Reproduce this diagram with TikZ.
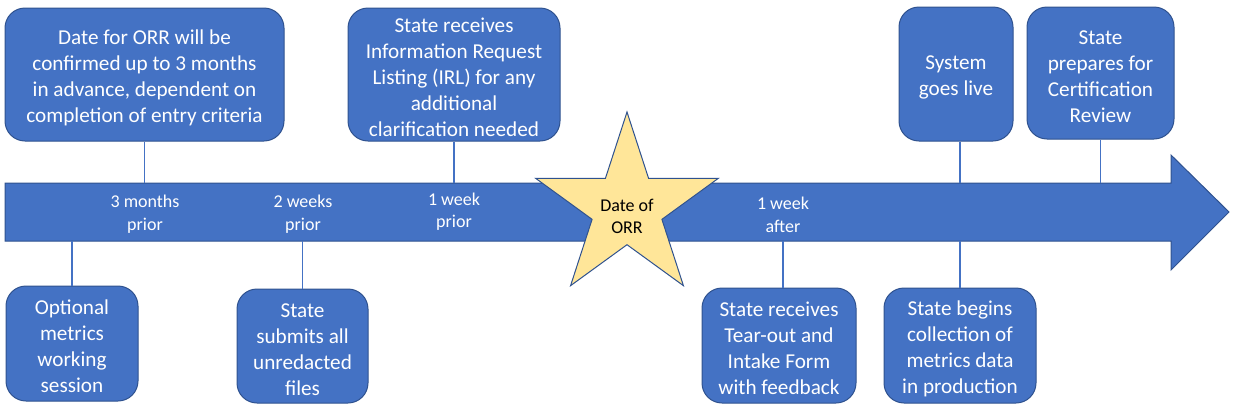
\documentclass[tikz,border=0pt]{standalone}
\usepackage{fontspec}
\setmainfont{Carlito}
\usetikzlibrary{calc}
\definecolor{ppblue}{HTML}{4472C4}
\definecolor{ppedge}{HTML}{2F528F}
\definecolor{ppgold}{HTML}{FFE699}
\newcommand{\padtop}{\rule{0pt}{10.5pt}}

\begin{document}
\begin{tikzpicture}[x=0.5pt,y=-0.5pt,
  event/.style={draw=ppedge, line width=0.5pt, fill=ppblue, rounded corners=10pt,
    text=white, align=center, inner sep=0pt, font=\fontsize{10.6}{13}\selectfont},
  when/.style={text=white, align=center, font=\fontsize{9}{11.2}\selectfont},
  tick/.style={draw=ppblue, line width=0.6pt}]
  \useasboundingbox (0,0) rectangle (1233,413);

  \draw [draw=ppedge, fill=ppblue, line width=0.5pt]
  (5,183) -- (1171,183) -- (1171,155) -- (1229,212) -- (1171,270)
  -- (1171,241) -- (5,241) -- cycle;
  \coordinate (bodytop) at (0,183);
  \coordinate (bodybot) at (0,241);

  \node[when] (threemonths) at (145,214) {3 months\\prior};
  \node[when] (twoweeks) at (303,214) {2 weeks\\prior};
  \node[when] (weekprior) at (454,211.5) {1 week\\prior};
  \node[when] (weekafter) at (783,215) {1 week\\after};

  % events above the line
  \node[event, minimum width=139.5pt, minimum height=66.5pt] (confirm) at (144.5,74.5)
  {\padtop Date for ORR will be\\confirmed up to 3 months\\in advance, dependent on\\completion of entry criteria};
  \node[event, minimum width=106pt, minimum height=66.5pt] (irl) at (454,74.5)
  {\padtop State receives\\Information Request\\Listing (IRL) for any\\additional\\clarification needed};
  \node[event, minimum width=57pt, minimum height=67pt] (golive) at (956,74)
  {\padtop System\\goes live};
  \node[event, minimum width=73.5pt, minimum height=66pt] (certify) at (1100.5,73)
  {\padtop State\\prepares for\\Certification\\Review};

  % events below the line
  \node[event, minimum width=66pt, minimum height=57.5pt] (optional) at (72,343.5)
  {\padtop Optional\\metrics\\working\\session};
  \node[event, minimum width=65.5pt, minimum height=57pt] (submit) at (302.5,346)
  {\padtop State\\submits all\\unredacted\\files};
  \node[event, minimum width=77pt, minimum height=57.5pt] (tearout) at (779,345.5)
  {\padtop State receives\\Tear-out and\\Intake Form\\with feedback};
  \node[event, minimum width=76pt, minimum height=57.5pt] (collect) at (960,345.5)
  {\padtop State begins\\collection of\\metrics data\\in production};

  \draw [tick]
  (confirm.south) -- (confirm.south |- bodytop)
  (irl.south) -- (irl.south |- bodytop)
  (golive.south -| collect) -- (collect |- bodytop)
  (certify.south) -- (certify.south |- bodytop)
  (optional.north) -- (optional.north |- bodybot)
  (submit.north) -- (submit.north |- bodybot)
  (tearout.north -| weekafter) -- (weekafter |- bodybot)
  (collect.north) -- (collect.north |- bodybot)
  ;

  % the review date
  \coordinate (orr) at (627,208);
  \draw [draw=ppedge, fill=ppgold, line width=0.5pt]
  ($(orr)+(-90:96)$)
  \foreach \k in {1,...,9} {
    -- ($(orr)+({-90+36*\k}:{mod(\k,2)==1 ? 36.7 : 96})$)
  } -- cycle;
  \node[align=center, font=\fontsize{9}{11.2}\selectfont] (orrtext) at (627,216.5)
  {Date of\\ORR};
\end{tikzpicture}
\end{document}
